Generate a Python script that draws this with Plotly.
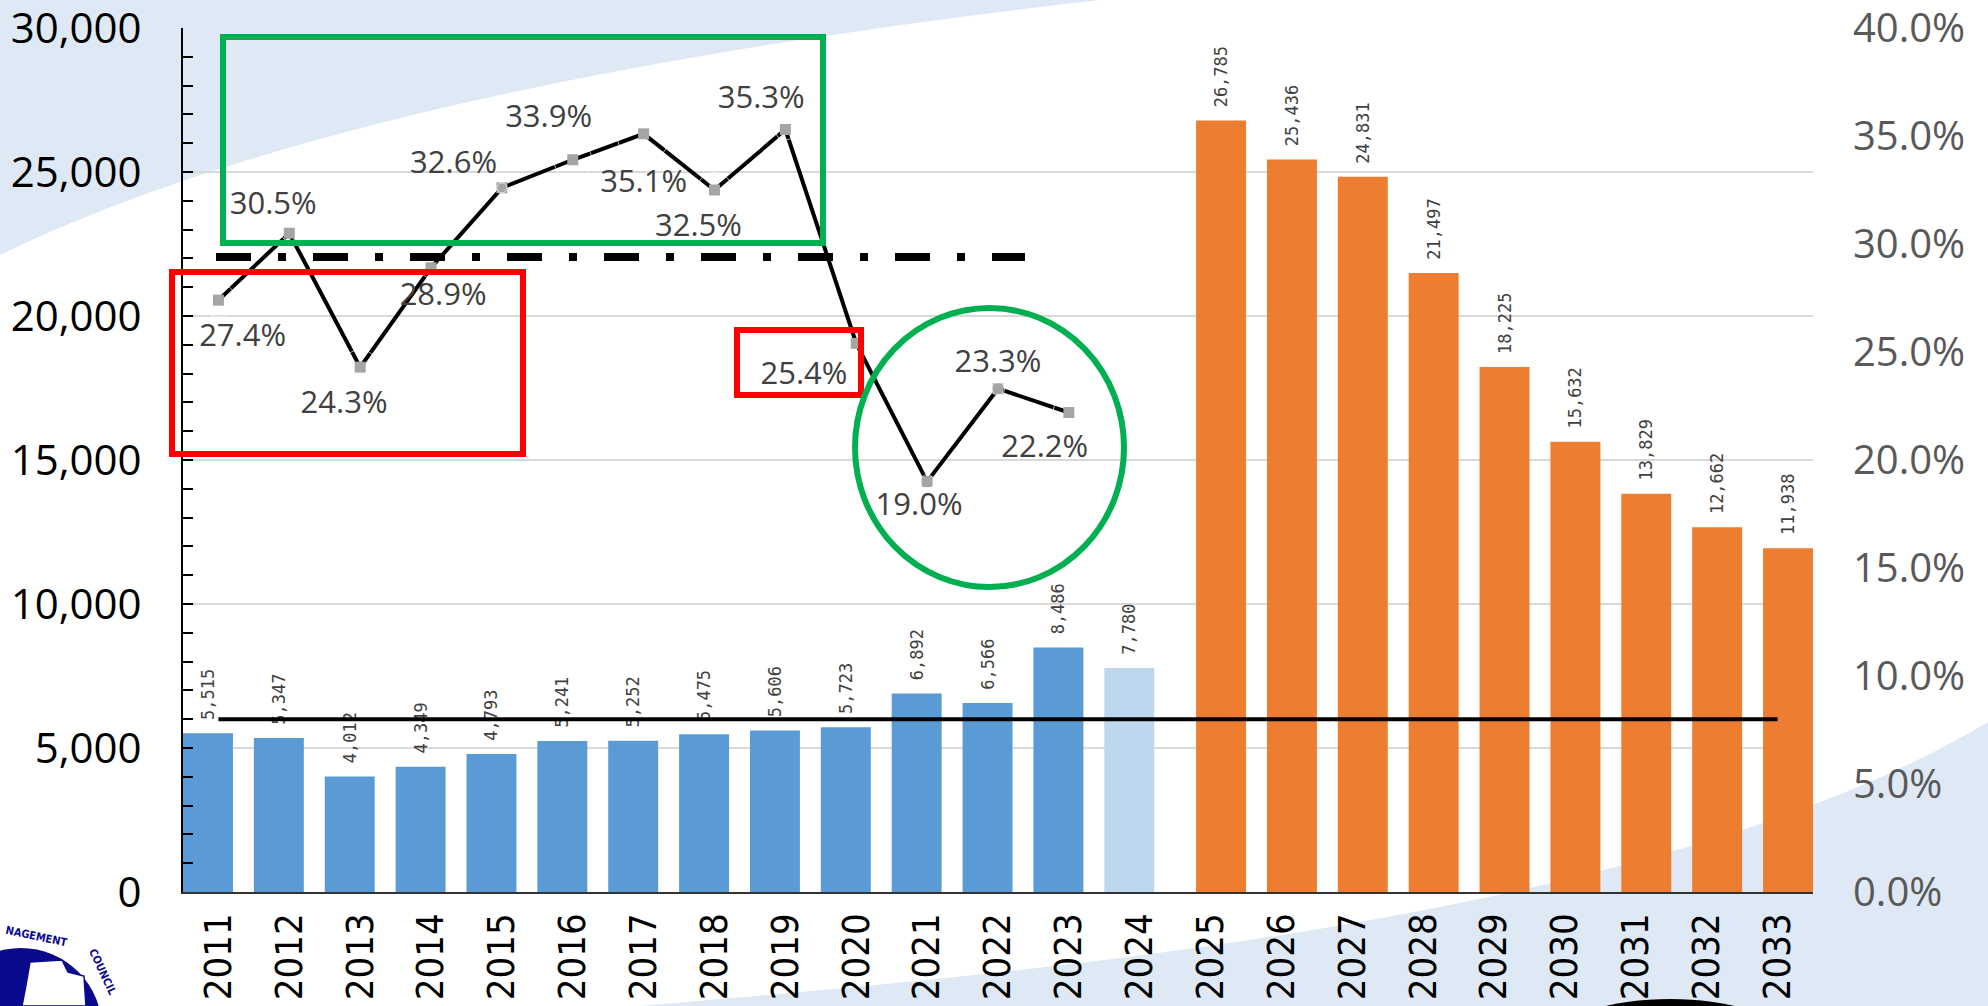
import plotly.graph_objects as go

# ---------------- data ----------------
years = ["2011", "2012", "2013", "2014", "2015", "2016", "2017", "2018", "2019",
         "2020", "2021", "2022", "2023", "2024", "2025", "2026", "2027", "2028",
         "2029", "2030", "2031", "2032", "2033"]

actual_years = ["2011", "2012", "2013", "2014", "2015", "2016", "2017", "2018",
                "2019", "2020", "2021", "2022", "2023", "2024"]
actual_values = [5515, 5347, 4012, 4349, 4793, 5241, 5252, 5475, 5606, 5723,
                 6892, 6566, 8486, 7780]

forecast_years = ["2025", "2026", "2027", "2028", "2029", "2030", "2031", "2032", "2033"]
forecast_values = [26785, 25436, 24831, 21497, 18225, 15632, 13829, 12662, 11938]

pct_years = ["2011", "2012", "2013", "2014", "2015", "2016", "2017", "2018",
             "2019", "2020", "2021", "2022", "2023"]
pct_values = [27.4, 30.5, 24.3, 28.9, 32.6, 33.9, 35.1, 32.5, 35.3, 25.4, 19.0, 23.3, 22.2]

threshold_pct = 8.0      # solid black reference line
average_pct = 29.4       # dash-dot reference line

left_ticks = [0, 5000, 10000, 15000, 20000, 25000, 30000]
left_ticktext = ["0", "5,000", "10,000", "15,000", "20,000", "25,000", "30,000"]
right_ticks = [0, 5, 10, 15, 20, 25, 30, 35, 40]
right_ticktext = ["0.0%", "5.0%", "10.0%", "15.0%", "20.0%", "25.0%", "30.0%", "35.0%", "40.0%"]

# ---------------- styles ----------------
BLUE = "#5B9BD5"
LIGHT_BLUE = "#BDD7EE"
ORANGE = "#ED7D31"
BG_BLUE = "#DEE9F5"
NAVY = "#0A0A8C"
actual_colors = [BLUE] * 13 + [LIGHT_BLUE]

# percentage-label placement: (side, spacer size controlling distance, pad-left, pad-right)
pct_label_style = [("bottom", 34, 6, 0), ("top", 16, 0, 4), ("bottom", 35, 0, 4), ("bottom", 21, 3, 0),
                   ("top", 10, 0, 12), ("top", 38, 0, 6), ("bottom", 54, 0, 0), ("bottom", 35, 0, 4),
                   ("top", 21, 0, 6), ("bottom", 26, 0, 13), ("bottom", 14, 0, 2), ("top", 13, 0, 0),
                   ("bottom", 32, 0, 6)]

L, R, T, B = 183, 1813, 28, 892
W, H = 1988, 1006
NBSP = "\u00a0"


def px(x):
    return (x - L) / (R - L)


def py(y):
    return (B - y) / (B - T)


def pt(x, y):
    return f"{px(x):.5f},{py(y):.5f}"


fig = go.Figure()

BAR_W = 0.705
bar_font = dict(family="DejaVu Sans Mono", size=17, color="#404040")
fig.add_trace(go.Bar(x=actual_years, y=actual_values,
                     marker=dict(color=actual_colors, line=dict(width=0)),
                     width=BAR_W, offset=-0.5, name="actual",
                     text=[NBSP + f"{v:,}" for v in actual_values], textposition="outside",
                     textangle=-90, constraintext="none", textfont=bar_font, cliponaxis=False))
fig.add_trace(go.Bar(x=forecast_years, y=forecast_values,
                     marker=dict(color=ORANGE, line=dict(width=0)),
                     width=BAR_W, offset=0.5 - BAR_W, name="forecast",
                     text=[NBSP + f"{v:,}" for v in forecast_values], textposition="outside",
                     textangle=-90, constraintext="none", textfont=bar_font, cliponaxis=False))

fig.add_trace(go.Scatter(x=years, y=[threshold_pct] * len(years), yaxis="y2", mode="lines",
                         line=dict(color="black", width=4), hoverinfo="skip"))

fig.add_trace(go.Scatter(x=pct_years, y=pct_values, yaxis="y2", mode="lines+markers",
                         line=dict(color="black", width=4),
                         marker=dict(symbol="square", size=11, color="#A5A5A5")))

# percentage labels (invisible spacer markers set the distance from each point)
fig.add_trace(go.Scatter(
    x=pct_years, y=pct_values, yaxis="y2", mode="markers+text",
    text=[NBSP * pl + f"{v:.1f}%" + NBSP * pr for v, (_, _, pl, pr) in zip(pct_values, pct_label_style)],
    textposition=[f"{side} center" for side, _, _, _ in pct_label_style],
    textfont=dict(family="Open Sans", size=31, color="#404040"),
    marker=dict(size=[s for _, s, _, _ in pct_label_style], color="rgba(0,0,0,0)"),
    hoverinfo="skip", cliponaxis=False))

shapes = []
# background swooshes
top_path = f"M {pt(0, 0)} L {pt(1100, 0)} Q {pt(350, 85)} {pt(0, 255)} Z"
shapes.append(dict(type="path", xref="paper", yref="paper", path=top_path,
                   fillcolor=BG_BLUE, line=dict(width=0), layer="below"))
bot_path = (f"M {pt(640, 1006)} C {pt(1000, 975)} {pt(1650, 925)} {pt(1988, 722)} "
            f"L {pt(1988, 1006)} Z")
shapes.append(dict(type="path", xref="paper", yref="paper", path=bot_path,
                   fillcolor=BG_BLUE, line=dict(width=0), layer="below"))

# highlight boxes
shapes.append(dict(type="rect", xref="paper", yref="paper", x0=px(223), x1=px(823),
                   y0=py(243), y1=py(37), line=dict(color="#00B050", width=6)))
shapes.append(dict(type="rect", xref="paper", yref="paper", x0=px(172), x1=px(523),
                   y0=py(454), y1=py(272), line=dict(color="#FF0000", width=6)))
shapes.append(dict(type="rect", xref="paper", yref="paper", x0=px(737), x1=px(861),
                   y0=py(395), y1=py(330), line=dict(color="#FF0000", width=6)))
shapes.append(dict(type="circle", xref="paper", yref="paper", x0=px(855), x1=px(1124),
                   y0=py(587), y1=py(308), line=dict(color="#00B050", width=6)))

# dash-dot average line
shapes.append(dict(type="line", xref="paper", yref="y2", x0=px(216), x1=px(1025),
                   y0=average_pct, y1=average_pct,
                   line=dict(color="black", width=8, dash="35px,27px,8px,27px")))

# black arc at the bottom
shapes.append(dict(type="circle", xref="paper", yref="paper", x0=px(1562), x1=px(1778),
                   y0=py(1070), y1=py(999), fillcolor="black", line=dict(width=0)))

# logo approximation
shapes.append(dict(type="circle", xref="paper", yref="paper", x0=px(-60), x1=px(102),
                   y0=py(1110), y1=py(948), fillcolor=NAVY, line=dict(width=0)))
logo_map = (f"M {pt(30, 962)} L {pt(62, 960)} L {pt(68, 972)} L {pt(84, 976)} "
            f"L {pt(86, 1006)} L {pt(22, 1006)} L {pt(26, 985)} Z")
shapes.append(dict(type="path", xref="paper", yref="paper", path=logo_map,
                   fillcolor="white", line=dict(color=NAVY, width=1.5)))

annotations = [
    dict(x=px(36), y=py(937), xref="paper", yref="paper", text="<b>NAGEMENT</b>", showarrow=False,
         xanchor="center", yanchor="middle", textangle=12,
         font=dict(family="DejaVu Sans Condensed", size=11, color=NAVY)),
    dict(x=px(103), y=py(972), xref="paper", yref="paper", text="<b>COUNCIL</b>", showarrow=False,
         xanchor="center", yanchor="middle", textangle=65,
         font=dict(family="DejaVu Sans Condensed", size=11, color=NAVY)),
]

fig.update_layout(
    width=W, height=H,
    margin=dict(l=L, r=W - R, t=T, b=H - B, pad=0, autoexpand=False),
    paper_bgcolor="white", plot_bgcolor="rgba(0,0,0,0)",
    barmode="overlay", showlegend=False, uniformtext=dict(mode=False),
    shapes=shapes, annotations=annotations,
    xaxis=dict(type="category", categoryorder="array", categoryarray=years,
               range=[-0.5, len(years) - 0.5], tickangle=-90, automargin=False,
               tickfont=dict(family="Liberation Sans Narrow, Arial Narrow, DejaVu Sans Condensed, sans-serif",
                             size=38, color="black"),
               showline=True, linecolor="#333333", linewidth=2, ticks="",
               showgrid=False, ticklabelstandoff=4, ticklabeloverflow="allow"),
    yaxis=dict(range=[0, 30000], tickvals=left_ticks, ticktext=left_ticktext, automargin=False,
               tickfont=dict(family="Open Sans", size=42, color="black"),
               showgrid=True, gridcolor="#D9D9D9", gridwidth=2, zeroline=False,
               showline=True, linecolor="black", linewidth=2,
               ticks="inside", ticklen=10, tickwidth=2, tickcolor="black",
               minor=dict(dtick=1000, ticks="inside", ticklen=10, tickwidth=2,
                          tickcolor="black", showgrid=False),
               ticklabelstandoff=31, ticklabeloverflow="allow"),
    yaxis2=dict(range=[0, 40], tickvals=right_ticks, ticktext=right_ticktext,
                overlaying="y", side="right", showgrid=False, zeroline=False,
                showline=False, ticks="", automargin=False,
                tickfont=dict(family="Open Sans", size=40, color="#595959"),
                ticklabelstandoff=39, ticklabeloverflow="allow"),
)

fig.write_html("out.html", config={"displayModeBar": False},
               post_script="document.body.style.margin='0';")
